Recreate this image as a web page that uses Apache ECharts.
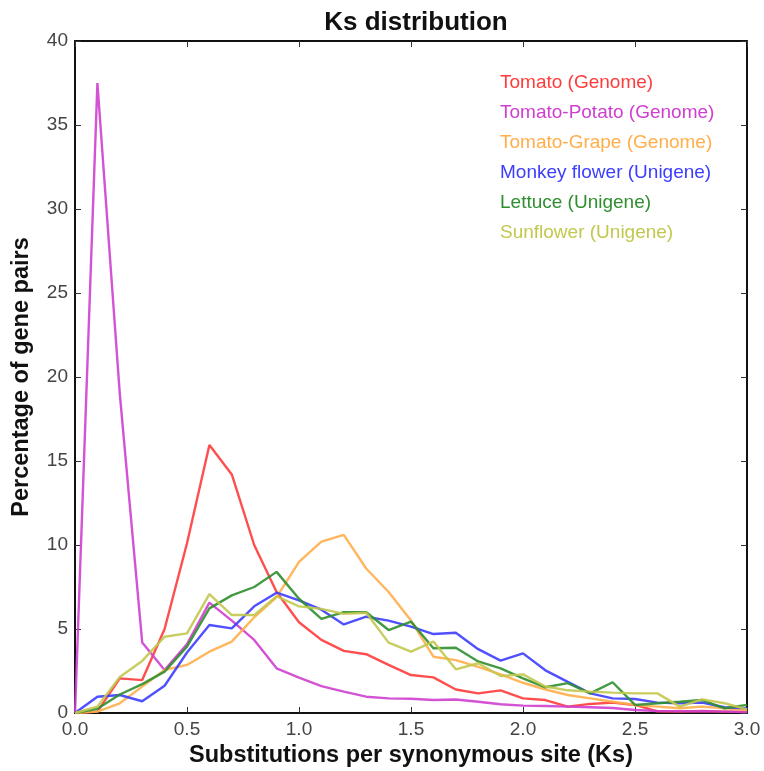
<!DOCTYPE html>
<html>
<head>
<meta charset="utf-8">
<script src="https://cdn.jsdelivr.net/npm/echarts@6/dist/echarts.min.js"></script>
<style>
  html, body { margin: 0; padding: 0; background: #fff; }
  #chart { width: 764px; height: 771px; }
</style>
</head>
<body>
<div id="chart"></div>
<script>
// Ks bins (0.0 .. 3.0, step 0.1)
const ks = [0.0,0.1,0.2,0.3,0.4,0.5,0.6,0.7,0.8,0.9,1.0,1.1,1.2,1.3,1.4,1.5,1.6,1.7,1.8,1.9,2.0,2.1,2.2,2.3,2.4,2.5,2.6,2.7,2.8,2.9,3.0];

// Percentage of gene pairs per bin
const tomato = [0,0.08,2.06,1.96,5.0,10.1,15.95,14.2,10.0,7.2,5.4,4.35,3.7,3.5,2.86,2.26,2.12,1.4,1.17,1.35,0.87,0.77,0.38,0.54,0.62,0.48,0.1,0.08,0.12,0.08,0.08];
const tomatoPotato = [0,37.5,19.0,4.2,2.56,4.1,6.57,5.5,4.35,2.66,2.1,1.6,1.27,0.97,0.87,0.85,0.77,0.8,0.67,0.52,0.44,0.42,0.38,0.34,0.3,0.18,0.12,0.1,0.1,0.08,0.05];
const tomatoGrape = [0,0.08,0.58,1.57,2.56,2.86,3.65,4.25,5.7,6.9,9.0,10.2,10.6,8.6,7.2,5.5,3.35,3.15,2.75,2.3,1.8,1.4,1.07,0.87,0.67,0.48,0.38,0.28,0.38,0.28,0.18];
const monkeyFlower = [0,0.97,1.07,0.7,1.62,3.6,5.24,5.04,6.35,7.16,6.7,6.15,5.27,5.73,5.5,5.14,4.7,4.78,3.8,3.12,3.55,2.54,1.85,1.17,0.87,0.83,0.62,0.58,0.62,0.34,0.28];
const lettuce = [0,0.25,1.1,1.72,2.46,3.95,6.23,7.0,7.5,8.4,6.8,5.6,6.0,6.0,4.94,5.44,3.85,3.88,3.07,2.66,2.06,1.53,1.78,1.17,1.83,0.48,0.58,0.67,0.77,0.28,0.48];
const sunflower = [0,0.38,2.14,3.1,4.54,4.74,7.08,5.83,5.83,6.95,6.35,6.2,5.9,5.97,4.19,3.65,4.25,2.6,2.96,2.2,2.3,1.58,1.35,1.27,1.21,1.17,1.17,0.38,0.81,0.58,0.22];

const seriesNames = ['Tomato (Genome)','Tomato-Potato (Genome)','Tomato-Grape (Genome)','Monkey flower (Unigene)','Lettuce (Unigene)','Sunflower (Unigene)'];
const seriesValues = [tomato, tomatoPotato, tomatoGrape, monkeyFlower, lettuce, sunflower];
const seriesColors = ['#ff3b3b','#cf3fcf','#ffae4a','#3d3dff','#2f8f2f','#c2c84e'];

const FONT = 'Liberation Sans, Arial, sans-serif';
const chart = echarts.init(document.getElementById('chart'), null, { renderer: 'canvas' });

const tickFont = { color: '#444', fontSize: 19, fontFamily: FONT };
const frameLine = { show: true, onZero: false, lineStyle: { color: '#111', width: 2 } };
const innerTicks = { show: true, inside: true, length: 6, lineStyle: { color: '#333', width: 1 } };

chart.setOption({
  animation: false,
  backgroundColor: '#fff',
  title: {
    text: 'Ks distribution',
    left: 411,
    top: 5,
    textAlign: 'center',
    textStyle: { fontSize: 26, fontWeight: 'bold', color: '#111', fontFamily: FONT }
  },
  legend: {
    orient: 'vertical',
    left: 495,
    top: 73,
    itemWidth: 0,
    itemHeight: 0,
    itemGap: 10,
    icon: 'none',
    selectedMode: false,
    padding: 0,
    textStyle: { fontSize: 19, lineHeight: 20, fontFamily: FONT, padding: 0 },
    data: seriesNames.map((n, i) => ({ name: n, textStyle: { color: seriesColors[i] } }))
  },
  grid: { left: 75, right: 17, top: 41, bottom: 58, containLabel: false, outerBoundsMode: 'none' },
  xAxis: [
    {
      type: 'value', min: 0, max: 3, interval: 0.5,
      name: 'Substitutions per synonymous site (Ks)',
      nameLocation: 'middle', nameGap: 25,
      nameTextStyle: { fontSize: 23.5, fontWeight: 'bold', color: '#111', fontFamily: FONT },
      axisLine: frameLine, axisTick: innerTicks,
      axisLabel: Object.assign({ margin: 7, formatter: v => v.toFixed(1) }, tickFont),
      splitLine: { show: false }
    },
    {
      type: 'value', min: 0, max: 3, interval: 0.5, position: 'top',
      axisLine: frameLine, axisTick: innerTicks, axisLabel: { show: false }, splitLine: { show: false }
    }
  ],
  yAxis: [
    {
      type: 'value', min: 0, max: 40, interval: 5,
      name: 'Percentage of gene pairs',
      nameLocation: 'middle', nameGap: 41,
      nameTextStyle: { fontSize: 23.5, fontWeight: 'bold', color: '#111', fontFamily: FONT },
      axisLine: frameLine, axisTick: innerTicks,
      axisLabel: Object.assign({ margin: 7 }, tickFont),
      splitLine: { show: false }
    },
    {
      type: 'value', min: 0, max: 40, interval: 5, position: 'right',
      axisLine: frameLine, axisTick: innerTicks, axisLabel: { show: false }, splitLine: { show: false }
    }
  ],
  series: seriesNames.map((n, i) => ({
    name: n,
    type: 'line',
    xAxisIndex: 0,
    yAxisIndex: 0,
    showSymbol: false,
    symbol: 'none',
    color: seriesColors[i],
    lineStyle: { width: 2.4, color: seriesColors[i], opacity: 0.9 },
    data: ks.map((x, j) => [x, seriesValues[i][j]])
  }))
});
</script>
</body>
</html>
